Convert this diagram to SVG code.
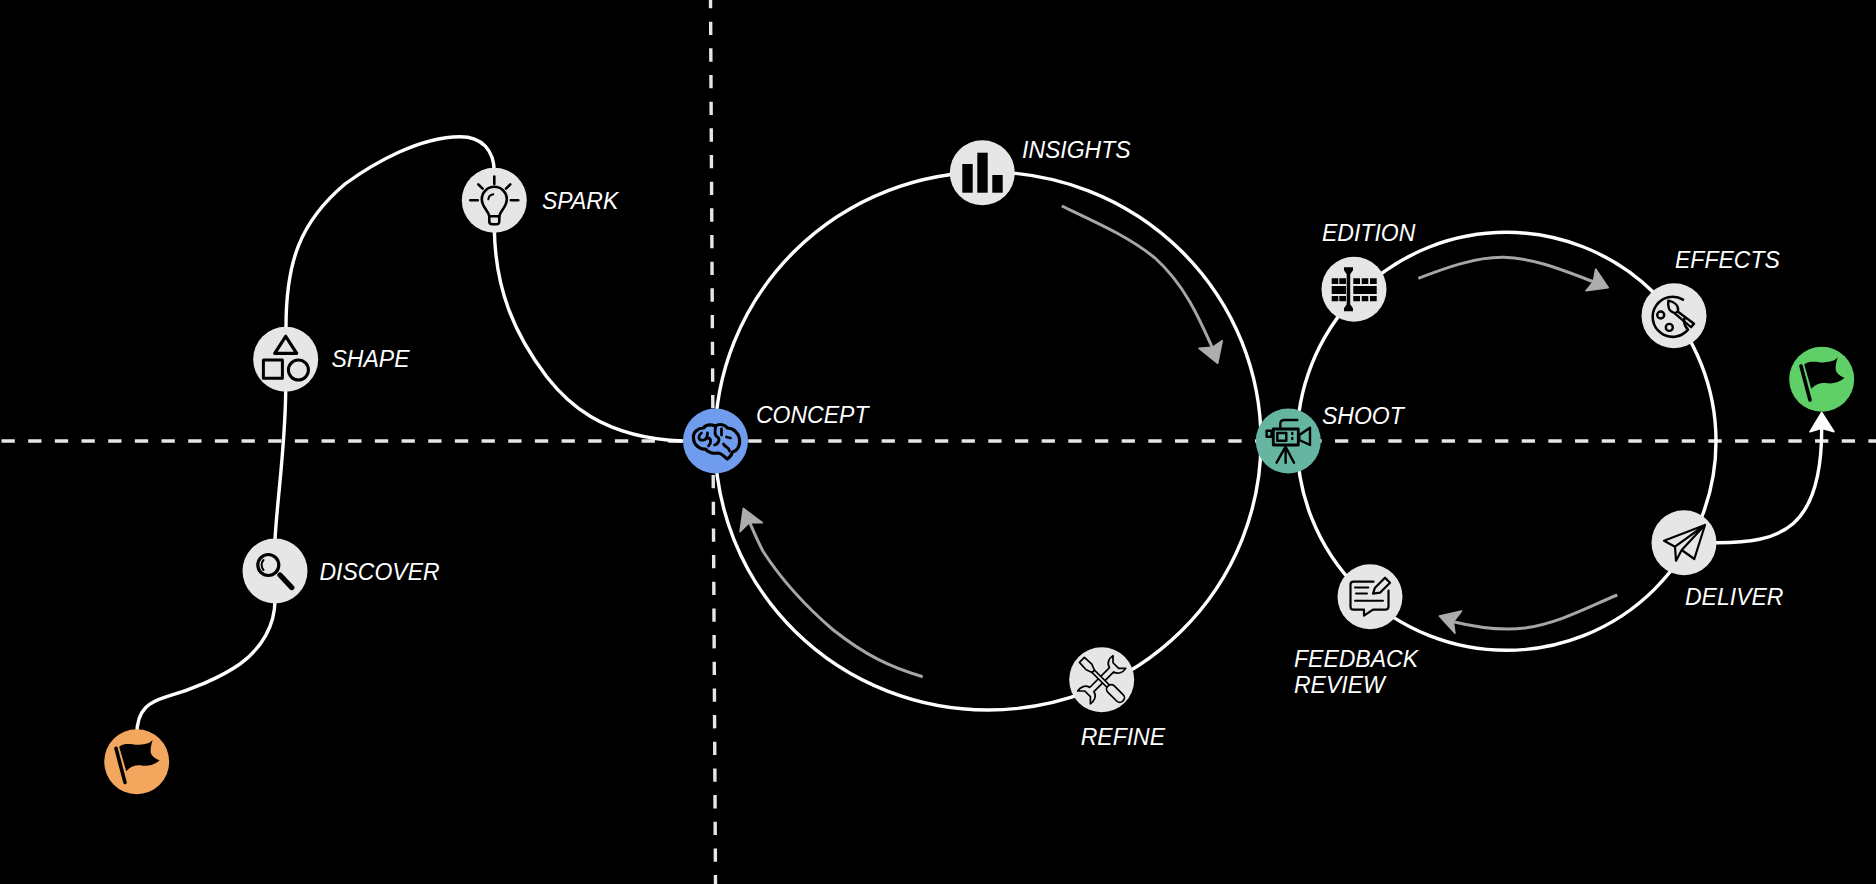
<svg xmlns="http://www.w3.org/2000/svg" width="1876" height="884" viewBox="0 0 1876 884">
<style>
.dash{stroke:#e6e6e6;stroke-width:3.4;stroke-dasharray:13.3 13.37;fill:none}
.wire{stroke:#fff;stroke-width:3.4;fill:none;stroke-linecap:round}
.flow{stroke:#a6a6a6;stroke-width:3;fill:none}
.head{fill:#adadad;stroke:#adadad;stroke-width:1.5;stroke-linejoin:round}
.nc{fill:#e6e6e6}
.lb{font-family:"Liberation Sans",Arial,sans-serif;font-style:italic;font-size:23px;fill:#fff}
.ic{fill:none;stroke:#000;stroke-linecap:round;stroke-linejoin:round}
.k{fill:#000;stroke:none}
</style>
<defs>
<g id="flag">
<line x1="-20.7" y1="-13.3" x2="-11.7" y2="20.7" stroke="#000" stroke-width="3.6" stroke-linecap="round"/>
<path class="k" d="M-17.5,-15 C-10,-20 -3,-16 3,-17 C8,-17.5 13,-18 16,-22 C14,-15 13,-10 15,-7 C17,-4 20,-2.5 23,-1.5 C18,3 12,4.5 6,4 C0,3 -5,4 -10.5,9.5 Z"/>
</g>
</defs>
<rect width="1876" height="884" fill="#000"/>
<g id="axes">
<line class="dash" x1="1.5" y1="441" x2="1876" y2="441"/>
<line class="dash" x1="710.5" y1="-5" x2="715.5" y2="884"/>
</g>
<g id="connectors">
<ellipse class="wire" cx="988" cy="441" rx="273" ry="269"/>
<ellipse class="wire" cx="1506.5" cy="441.3" rx="209.5" ry="209"/>
<path class="wire" d="M136.7,735 C137,708 150,702 166.7,696.7 C190,690 220,678 240,664 C262,648 275,625 275,600"/>
<path class="wire" d="M275,540 C277,500 285,450 285.7,392"/>
<path class="wire" d="M286,327 C286,262 300,222 345,184 C375,162 420,137 460,136.7 C482,136.7 494,150 494.3,172"/>
<path class="wire" d="M494.3,228 C495,290 515,335 546.7,376.7 C565,400 600,438 683,441"/>
<path class="wire" d="M1716,542.7 C1780,543 1822,530 1821.7,428"/>
<path d="M1821.7,412.3 L1834,431.7 L1821.7,428.3 L1810,431.7 Z" fill="#fff" stroke="#fff" stroke-width="1.5" stroke-linejoin="round"/>
<path class="flow" d="M1061.8,206 C1095,222 1128,236 1155,258 C1185,285 1200,320 1212,347"/>
<path class="head" d="M1217.7,363.3 L1199,348.3 L1212.3,347.3 L1222.3,340.7 Z"/>
<path class="flow" d="M922.7,676.7 C890,667 865,655 833.3,630 C810,610 785,585 763.3,551.7 C757,540 753,530 749.5,522"/>
<path class="head" d="M743.3,508.3 L762.3,522.7 L749.3,522.7 L740,531.7 Z"/>
<path class="flow" d="M1418.3,278.3 C1445,268 1475,257 1503.3,257.3 C1535,258 1565,271 1593.3,281.7"/>
<path class="head" d="M1608.3,287.7 L1595.7,269 L1593.3,281.7 L1586,290.7 Z"/>
<path class="flow" d="M1617.3,595 C1590,606 1560,623 1525,628 C1500,631 1475,627 1453.3,621.7"/>
<path class="head" d="M1439.3,616 L1461.7,611 L1453.3,621.7 L1455,633.3 Z"/>
</g>
<g id="node-start" transform="translate(136.7,761.7)"><circle r="32.5" fill="#f2a65e"/><use href="#flag"/></g>
<g id="node-discover" transform="translate(275,571)"><circle class="nc" r="32.5"/>
<circle class="ic" cx="-6.7" cy="-6" r="10.5" stroke-width="3.2"/>
<path class="ic" d="M5,4 L16.7,16.5" stroke-width="5.4"/>
<path class="ic" stroke-width="2" d="M-11.5,-11 A7.5,7.5 0 0 0 -11.5,-1"/>
</g>
<g id="node-shape" transform="translate(285.7,359.3)"><circle class="nc" r="32.5"/>
<path class="ic" stroke-width="3.2" d="M0,-23 L-11,-6 H11 Z"/>
<rect class="ic" stroke-width="3" x="-22.3" y="0.7" width="19" height="18.3"/>
<circle class="ic" stroke-width="3" cx="12.7" cy="10.7" r="10"/>
</g>
<g id="node-spark" transform="translate(494.3,200.3)" stroke-width="2.6"><circle class="nc" r="32.5"/>
<path class="ic" d="M0,-23.7 V-16.3 M-16,-16 L-11.7,-11.7 M16,-16 L11.7,-11.7 M-24,0 H-16.5 M24,0 H16.5"/>
<path class="ic" d="M-5,16 C-6,10 -12.5,7 -12.5,-1 A12.5,12.5 0 0 1 12.5,-1 C12.5,7 6,10 5,16 Z"/>
<path class="ic" d="M-5,16 V21 Q-5,24 -2,24 H2 Q5,24 5,21 V16"/>
<path class="ic" stroke-width="2" d="M-6,-1 A6,6 0 0 1 -1,-6"/>
</g>
<g id="node-concept" transform="translate(715.5,441)"><circle r="32.5" fill="#6f9cec"/>
<path class="ic" stroke-width="3.2" d="M-22,-3 C-23,-9 -17,-13 -12,-13 C-9,-17 -3,-16 0,-15 C4,-18 10,-16 12,-13 C18,-13 23,-8 24,-2 C25,4 22,10 17,11 C16,15 13,17 11.7,18 C8,15 6,12 2,12 C-3,13 -8,11 -10,8 C-15,9 -22,4 -22,-3 Z"/>
<path class="ic" stroke-width="2.8" d="M-14,-8 C-18,-5 -17,0 -13,-1 C-10,0 -8,-4 -8,-8 M-8,-3 C-4,-3 -4,2 -7,5 M0,-15 C0,-10 -2,-6 2,-4 C5,-2 3,3 -1,4 M6,-12 V-6 M11,-4 L15,-3 M8,3 C10,7 13,5 14,10"/>
</g>
<g id="node-insights" transform="translate(982.3,172.7)"><circle class="nc" r="32.5"/>
<rect class="k" x="-20" y="-8.7" width="10.4" height="28.7"/>
<rect class="k" x="-5" y="-20" width="10.4" height="40"/>
<rect class="k" x="10" y="2.3" width="10.4" height="17.7"/>
</g>
<g id="node-refine" transform="translate(1101.7,679.7)" stroke-width="1.7"><circle class="nc" r="32.5"/>
<path class="ic" transform="rotate(-45)" d="M-14,-3 L14,-3 C15,-8 20,-10 25,-9 L20,-4 L20,4 L25,9 C20,10 15,8 14,3 L-14,3 C-15,8 -20,10 -25,9 L-20,4 L-20,-4 L-25,-9 C-20,-10 -15,-8 -14,-3 Z"/>
<g transform="rotate(45)">
<path class="ic" style="fill:#e6e6e6" d="M-12,-1.7 H10 V1.7 H-12 Z"/>
<path class="ic" style="fill:#e6e6e6" d="M-12,-1.7 L-18,-4 L-28,-3.5 V3.5 L-18,4 L-12,1.7 Z"/>
<rect class="ic" style="fill:#e6e6e6" x="9" y="-4.5" width="21" height="9" rx="4"/>
</g>
</g>
<g id="node-shoot" transform="translate(1288.3,441)" stroke-width="2.4"><circle r="32.5" fill="#66b5a0"/>
<rect class="ic" stroke-width="2.8" x="-15" y="-12" width="25" height="16"/>
<rect class="ic" x="-11" y="-8" width="9" height="7.7"/>
<path class="ic" d="M4,-8 V-7 M4,-3 V-2"/>
<path class="ic" d="M-8,-12.5 V-17 Q-8,-21 -4,-21 H9"/>
<rect class="ic" x="-21.7" y="-10.3" width="5" height="6"/>
<path class="ic" d="M11,-6 L21.7,-13.3 V4 L11,-1 Z"/>
<path class="ic" d="M-2.7,5.7 L-11.7,21.7 M-2.7,5.7 V21.7 M-2.7,5.7 L5.7,21.7"/>
</g>
<g id="node-edition" transform="translate(1354,289.3)"><circle class="nc" r="32.5"/>
<path class="k" d="M-10,-22 H-1 V-19 L-3.8,-15 V15 L-1,19 V22 H-10 V19 L-7.3,15 V-15 L-10,-19 Z"/>
<path class="k" d="M-22.3,-11 h6.6 v5.7 h-6.6z M-14.7,-11 h6.7 v5.7 h-6.7z M-22.3,-3.3 h14.3 v8 h-14.3z M-22.3,6.7 h6.6 v5.3 h-6.6z M-14.7,6.7 h6.7 v5.3 h-6.7z M-0.7,-11 h6.7 v5.7 h-6.7z M7.7,-11 h6.6 v5.7 h-6.6z M16,-11 h6.7 v5.7 h-6.7z M-0.7,-3.3 h23.4 v8 h-23.4z M-0.7,6.7 h6.7 v5.3 h-6.7z M7.7,6.7 h6.6 v5.3 h-6.6z M16,6.7 h6.7 v5.3 h-6.7z"/>
</g>
<g id="node-effects" transform="translate(1674,315.7)" stroke-width="2.4"><circle class="nc" r="32.5"/>
<path class="ic" stroke-width="2.6" d="M9,-16 A20,20 0 1 0 14,14 C11,11 9,6 10.5,3"/>
<circle class="ic" cx="-13.3" cy="-0.7" r="3.5"/>
<circle class="ic" cx="-4.7" cy="11.7" r="3.5"/>
<path class="ic" d="M-5.7,-15 C-1,-14 5,-11 4,-5 C2,-1 -3,-3 -5,-7 C-6,-10 -6,-12 -5.7,-15 Z"/>
<path class="ic" d="M4,-4 L20,8 L17,11.5 L1,-2"/>
</g>
<g id="node-deliver" transform="translate(1684,542.7)" stroke-width="2.2"><circle class="nc" r="32.5"/>
<path class="ic" d="M21,-17.7 L-20,-2 L-9,4 L-8,18 L-2.3,7.3 L10.3,16.3 Z M21,-17.7 L-9,4 M21,-17.7 L-2.3,7.3"/>
</g>
<g id="node-feedback" transform="translate(1370,596.7)" stroke-width="2.2"><circle class="nc" r="32.5"/>
<path class="ic" d="M3.5,-15 H-16.5 Q-19.5,-15 -19.5,-12 V10 Q-19.5,13 -16.5,13 H-6 V19 L3,13 H15 Q18.5,13 18.5,10 V-6"/>
<path class="ic" stroke-width="2" d="M-15,-9.3 H-1.7 M-14,-3.3 H-3 M-15,4 H13"/>
<path class="ic" d="M3,-3 L5,-9 L15,-19 L20,-14 L10,-4 Z"/>
</g>
<g id="node-end" transform="translate(1821.7,379.3)"><circle r="32.5" fill="#5fcf68"/><use href="#flag"/></g>
<g id="labels">
<text class="lb" x="319.5" y="580">DISCOVER</text>
<text class="lb" x="331.5" y="367">SHAPE</text>
<text class="lb" x="542" y="208.5">SPARK</text>
<text class="lb" x="756" y="423">CONCEPT</text>
<text class="lb" x="1022" y="158">INSIGHTS</text>
<text class="lb" x="1080.7" y="745">REFINE</text>
<text class="lb" x="1322" y="241">EDITION</text>
<text class="lb" x="1322" y="424">SHOOT</text>
<text class="lb" x="1675" y="267.5">EFFECTS</text>
<text class="lb" x="1685" y="605">DELIVER</text>
<text class="lb" x="1294" y="667">FEEDBACK</text>
<text class="lb" x="1294" y="692.5">REVIEW</text>
</g>
</svg>
